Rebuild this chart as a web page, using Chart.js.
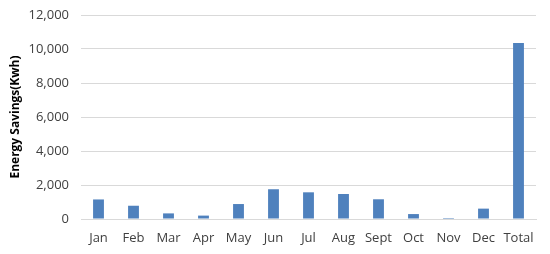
<!DOCTYPE html>
<html>
<head>
<meta charset="utf-8">
<script src="https://cdn.jsdelivr.net/npm/chart.js@4/dist/chart.umd.min.js"></script>
<style>
  html, body { margin: 0; padding: 0; background: #fff; }
  #wrap { width: 550px; height: 254px; position: relative; }
</style>
</head>
<body>
<div id="wrap"><canvas id="savingsChart"></canvas></div>
<script>
const months = ["Jan", "Feb", "Mar", "Apr", "May", "Jun", "Jul", "Aug", "Sept", "Oct", "Nov", "Dec", "Total"];
const savings = [1150, 780, 330, 200, 880, 1750, 1570, 1470, 1160, 290, 60, 610, 10350];
const yTicks = [0, 2000, 4000, 6000, 8000, 10000, 12000];

const ctx = document.getElementById("savingsChart").getContext("2d");

new Chart(ctx, {
    type: "bar",
    data: {
        labels: months,
        datasets: [{
            label: "Energy Savings",
            data: savings,
            backgroundColor: "#4F81BD",
            borderWidth: 0,
            barPercentage: 0.31,
            categoryPercentage: 1
        }]
    },
    options: {
        responsive: true,
        maintainAspectRatio: false,
        animation: false,
        layout: { padding: { top: 0, right: 14, bottom: 5, left: 8 } },
        plugins: {
            legend: { display: false },
            tooltip: { enabled: false }
        },
        scales: {
            x: {
                afterFit: axis => { axis.height = 30; },
                grid: { display: false, drawTicks: false },
                border: { display: true, color: "#d9d9d9", width: 1 },
                ticks: {
                    color: "#404040",
                    padding: 11,
                    font: { family: "Open Sans", size: 13 },
                    maxRotation: 0,
                    autoSkip: false
                }
            },
            y: {
                min: yTicks[0],
                max: yTicks[yTicks.length - 1],
                afterBuildTicks: axis => { axis.ticks = yTicks.map(v => ({ value: v })); },
                afterFit: axis => {
                    axis.width = 73;
                    axis.paddingTop = 15;
                },
                grid: { color: "#d9d9d9", lineWidth: 1, drawTicks: false },
                border: { display: false },
                ticks: {
                    color: "#404040",
                    padding: 12,
                    font: { family: "Open Sans", size: 13 },
                    callback: v => v.toLocaleString("en-US")
                },
                title: {
                    display: true,
                    text: "Energy Savings(Kwh)",
                    color: "#000",
                    padding: { top: 0, bottom: 4 },
                    font: { family: "Open Sans", size: 12, weight: "bold" }
                }
            }
        }
    }
});
</script>
</body>
</html>
